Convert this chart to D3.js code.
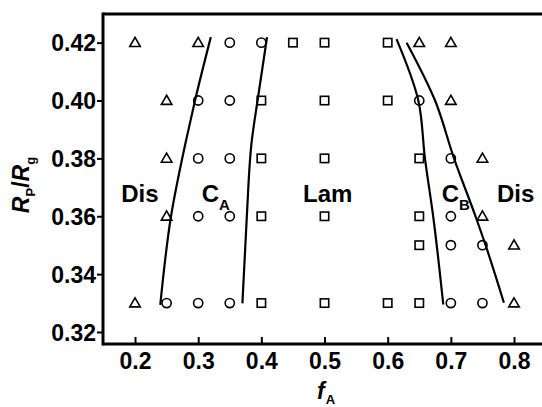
<!DOCTYPE html>
<html>
<head>
<meta charset="utf-8">
<script src="https://cdn.jsdelivr.net/npm/d3@7"></script>
<style>
  body { margin: 0; background: #fff; }
  svg { display: block; font-family: "Liberation Sans", Arial, sans-serif; font-weight: bold; }
</style>
</head>
<body>
<svg id="chart" width="542" height="407"></svg>
<script>
// phase points (fA, Rp/Rg)
var disF = [0.2, 0.3, 0.65, 0.7, 0.25, 0.7, 0.25, 0.75, 0.25, 0.75, 0.8, 0.2, 0.8];
var disR = [0.42, 0.42, 0.42, 0.42, 0.40, 0.40, 0.38, 0.38, 0.36, 0.36, 0.35, 0.33, 0.33];
var cylF = [0.35, 0.4, 0.3, 0.35, 0.65, 0.3, 0.35, 0.7, 0.3, 0.35, 0.7, 0.7, 0.75, 0.25, 0.3, 0.35, 0.7, 0.75];
var cylR = [0.42, 0.42, 0.40, 0.40, 0.40, 0.38, 0.38, 0.38, 0.36, 0.36, 0.36, 0.35, 0.35, 0.33, 0.33, 0.33, 0.33, 0.33];
var lamF = [0.45, 0.5, 0.6, 0.4, 0.5, 0.6, 0.4, 0.5, 0.65, 0.4, 0.5, 0.65, 0.65, 0.4, 0.5, 0.6, 0.65];
var lamR = [0.42, 0.42, 0.42, 0.40, 0.40, 0.40, 0.38, 0.38, 0.38, 0.36, 0.36, 0.36, 0.35, 0.33, 0.33, 0.33, 0.33];

// phase boundaries
var b1F = [0.24, 0.257, 0.281, 0.295, 0.320];
var b1R = [0.3294, 0.36, 0.3864, 0.40, 0.4219];
var b2F = [0.370, 0.377, 0.385, 0.394, 0.409];
var b2R = [0.3299, 0.36, 0.3864, 0.40, 0.4219];
var b3F = [0.688, 0.672, 0.659, 0.6485, 0.614];
var b3R = [0.3295, 0.36, 0.38, 0.40, 0.4212];
var b4F = [0.784, 0.755, 0.739, 0.705, 0.675, 0.630];
var b4R = [0.3301, 0.35, 0.36, 0.38, 0.40, 0.42];

var xTicks = [0.2, 0.3, 0.4, 0.5, 0.6, 0.7, 0.8];
var yTicks = [0.32, 0.34, 0.36, 0.38, 0.40, 0.42];

var svg = d3.select("#chart");
var mLeft = 103, mRight = 542, mTop = 14, mBottom = 344;

var x = d3.scaleLinear().domain([0.1493, 0.8443]).range([mLeft, mRight]);
var y = d3.scaleLinear().domain([0.31585, 0.4299]).range([mBottom, mTop]);

// axes
var yAxis = svg.append("g")
    .attr("transform", "translate(" + mLeft + ",0)")
    .call(d3.axisLeft(y).tickValues(yTicks).tickFormat(d3.format(".2f")).tickSize(6).tickPadding(1));
var xAxis = svg.append("g")
    .attr("transform", "translate(0," + mBottom + ")")
    .call(d3.axisBottom(x).tickValues(xTicks).tickFormat(d3.format(".1f")).tickSize(-7).tickPadding(9));

[xAxis, yAxis].forEach(function (g) {
    g.select(".domain").remove();
    g.selectAll(".tick line").attr("stroke", "#000").attr("stroke-width", 2);
    g.selectAll(".tick text").attr("fill", "#000").style("font-size", "23px").style("font-weight", "bold")
        .style("font-family", "'Liberation Sans', Arial, sans-serif");
});
yAxis.selectAll(".tick text").attr("dy", "0.36em");

// frame lines
svg.append("line").attr("x1", mLeft).attr("x2", mLeft).attr("y1", mTop - 1.5).attr("y2", mBottom + 1.5)
    .attr("stroke", "#000").attr("stroke-width", 3);
svg.append("line").attr("x1", mLeft).attr("x2", mRight).attr("y1", mBottom).attr("y2", mBottom)
    .attr("stroke", "#000").attr("stroke-width", 3);
svg.append("line").attr("x1", mLeft).attr("x2", mRight).attr("y1", mTop).attr("y2", mTop)
    .attr("stroke", "#000").attr("stroke-width", 3);

// boundary curves
var line = d3.line()
    .x(function (d) { return x(d[0]); })
    .y(function (d) { return y(d[1]); })
    .curve(d3.curveMonotoneY);
[[b1F, b1R], [b2F, b2R], [b3F, b3R], [b4F, b4R]].forEach(function (b) {
    var pts = d3.zip(b[0], b[1]).sort(function (a, c) { return a[1] - c[1]; });
    svg.append("path").attr("d", line(pts))
        .attr("fill", "none").attr("stroke", "#000").attr("stroke-width", 2.2);
});

// markers
var pts = svg.append("g").attr("fill", "none").attr("stroke", "#000").attr("stroke-width", 1.6);
pts.selectAll(".tri").data(d3.zip(disF, disR)).enter().append("path")
    .attr("d", d3.symbol().type(d3.symbolTriangle).size(48))
    .attr("transform", function (d) { return "translate(" + x(d[0]) + "," + (y(d[1]) + 0.8) + ")"; });
pts.selectAll(".cir").data(d3.zip(cylF, cylR)).enter().append("circle")
    .attr("cx", function (d) { return x(d[0]); })
    .attr("cy", function (d) { return y(d[1]); })
    .attr("r", 4.6);
pts.selectAll(".sq").data(d3.zip(lamF, lamR)).enter().append("rect")
    .attr("x", function (d) { return x(d[0]) - 4.2; })
    .attr("y", function (d) { return y(d[1]) - 4.2; })
    .attr("width", 8.4).attr("height", 8.4);

// region labels
function region(f, r, main, sub) {
    var t = svg.append("text").attr("x", x(f)).attr("y", y(r)).style("font-size", "24px").attr("fill", "#000");
    t.append("tspan").text(main);
    if (sub) t.append("tspan").text(sub).attr("dy", 8).style("font-size", "15px");
}
region(0.178, 0.365, "Dis");
region(0.3056, 0.365, "C", "A");
region(0.466, 0.365, "Lam");
region(0.6855, 0.365, "C", "B");
region(0.773, 0.365, "Dis");

// axis titles
var xt = svg.append("text").attr("x", 317).attr("y", 399).attr("fill", "#000");
xt.append("tspan").text("f").style("font-style", "italic").style("font-size", "23px");
xt.append("tspan").text("A").attr("dy", 5).attr("dx", 1).style("font-size", "13px");

var yt = svg.append("text").attr("transform", "translate(29,185) rotate(-90)")
    .attr("text-anchor", "middle").attr("fill", "#000").style("font-size", "23px");
yt.append("tspan").text("R").style("font-style", "italic");
yt.append("tspan").text("P").attr("dy", 6).style("font-size", "13px");
yt.append("tspan").text("/").attr("dy", -6);
yt.append("tspan").text("R").style("font-style", "italic");
yt.append("tspan").text("g").attr("dy", 6).style("font-size", "13px");
</script>
</body>
</html>
